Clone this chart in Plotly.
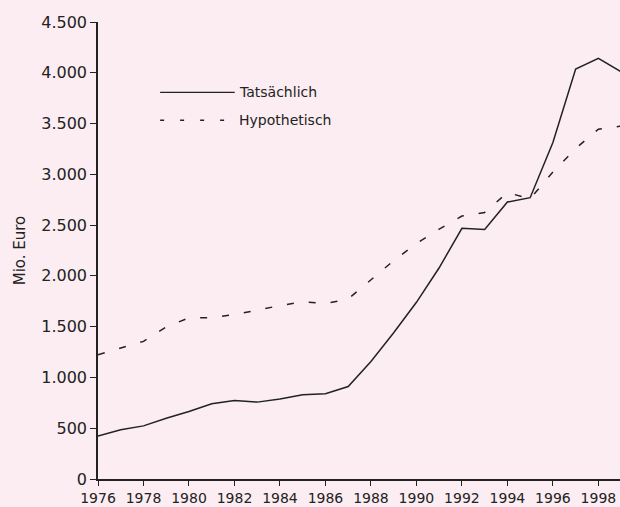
import plotly.graph_objects as go

years = list(range(1976, 2000))
tatsaechlich = [424, 484, 523, 599, 664, 740, 773, 757, 787, 829, 839, 911,
                1158, 1440, 1740, 2080, 2468, 2458, 2727, 2770, 3313, 4037, 4142, 4010]
hypothetisch = [1224, 1290, 1355, 1497, 1587, 1587, 1619, 1662, 1708, 1744, 1727, 1773,
                1960, 2150, 2320, 2460, 2589, 2625, 2820, 2760, 3023, 3254, 3445, 3474]
x_ticks = list(range(1976, 2000, 2))
y_ticks = list(range(0, 4501, 500))

BG = "#fcedf2"
INK = "#222222"
FONT = "DejaVu Sans, sans-serif"

fig = go.Figure()
fig.add_trace(go.Scatter(x=years, y=tatsaechlich, mode="lines", name="Tatsächlich",
                         line=dict(color=INK, width=1.5), showlegend=False))
fig.add_trace(go.Scatter(x=years, y=hypothetisch, mode="lines", name="Hypothetisch",
                         line=dict(color=INK, width=1.5, dash="7px,15px"), showlegend=False))

# manual legend (paper coordinates)
fig.add_shape(type="line", xref="paper", yref="paper", x0=0.119, x1=0.262, y0=0.846, y1=0.846,
              line=dict(color=INK, width=1.3))
fig.add_shape(type="line", xref="paper", yref="paper", x0=0.119, x1=0.262, y0=0.785, y1=0.785,
              line=dict(color=INK, width=1.3, dash="4px,16px"))
fig.add_annotation(xref="paper", yref="paper", x=0.266, y=0.846, text="Tatsächlich",
                   showarrow=False, xanchor="left", yanchor="middle",
                   font=dict(family=FONT, size=14, color=INK))
fig.add_annotation(xref="paper", yref="paper", x=0.266, y=0.785, text="Hypothetisch",
                   showarrow=False, xanchor="left", yanchor="middle",
                   font=dict(family=FONT, size=14, color=INK))

fig.update_layout(
    width=620, height=507,
    margin=dict(l=98, r=0, t=22, b=28),
    paper_bgcolor=BG, plot_bgcolor=BG,
    separators=",.",
    font=dict(family=FONT, color=INK),
    xaxis=dict(range=[1976, 1998.95], tickvals=x_ticks, ticks="outside", ticklen=5,
               tickcolor=INK, showline=True, linecolor=INK, linewidth=1.5, automargin=False,
               showgrid=False, zeroline=False, tickfont=dict(size=14), tickformat="d"),
    yaxis=dict(range=[0, 4500], tickvals=y_ticks, ticks="outside", ticklen=6,
               tickcolor=INK, showline=True, linecolor=INK, linewidth=1.5, automargin=False,
               showgrid=False, zeroline=False, tickfont=dict(size=16), tickformat=",d",
               title=dict(text="Mio. Euro", font=dict(size=15), standoff=12)),
)

fig.write_html("out.html", config={"displayModeBar": False},
               post_script="document.body.style.margin='0';")
